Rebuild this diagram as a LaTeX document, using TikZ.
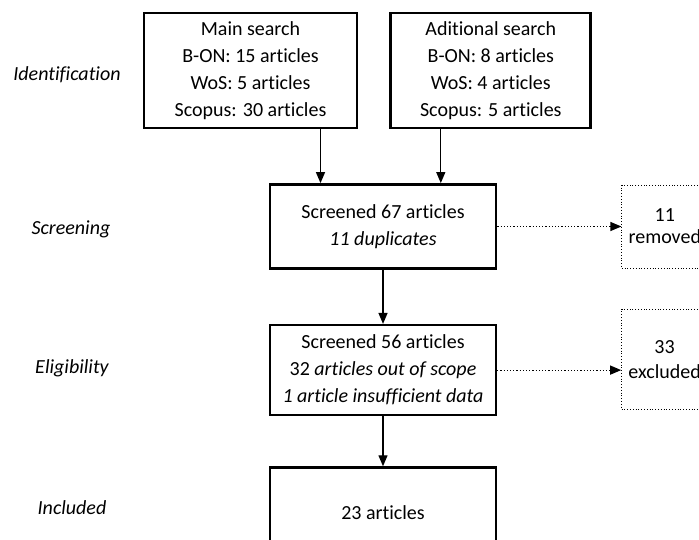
\documentclass[tikz,border=0pt]{standalone}
\usepackage{fontspec}
\setmainfont{Carlito}[Ligatures=NoCommon]
\usetikzlibrary{arrows.meta,positioning}

\begin{document}
\begin{tikzpicture}[
    x=1pt, y=-1pt,
    box/.style={draw, line width=2.8pt, minimum width=226pt, align=center, font=\fontsize{20}{27}\selectfont},
    dotbox/.style={draw, dotted, line width=0.8pt, minimum width=86pt, align=center, font=\fontsize{20}{25}\selectfont},
    stage/.style={font=\fontsize{20}{24}\selectfont\itshape},
    arrow/.style={-{Triangle[length=11pt,width=9pt]}, line width=1.3pt},
    dotarrow/.style={-{Triangle[length=11pt,width=9pt]}, line width=1.2pt, dotted}
]
    \useasboundingbox (0,0) rectangle (699,540);

    % stages
    \node[stage] (lid) at (67,75) {Identification};
    \node[stage] (lscr) at (71,229) {Screening};
    \node[stage] (lelig) at (72,368) {Eligibility};
    \node[stage] (lincl) at (72,508) {Included};

    % flow
    \node[box, minimum width=213pt, minimum height=115pt] (main) at (250.5,70.5) {Main search\\B-ON: 15 articles\\WoS: 5 articles\\Scopus: 30 articles};
    \node[box, minimum width=200pt, minimum height=115pt, right=31pt of main] (extra) {Aditional search\\B-ON: 8 articles\\WoS: 4 articles\\Scopus: 5 articles};
    \node[box, minimum height=84pt] (screen) at (383,226.5) {Screened 67 articles\\\textit{11 duplicates}};
    \node[box, line width=2.4pt, minimum height=90pt, below=54pt of screen] (elig) {Screened 56 articles\\32 \textit{articles out of scope}\\\textit{1 article insufficient data}};
    \node[box, line width=2.4pt, minimum height=90pt, below=50pt of elig] (incl) {23 articles};

    % removed
    \node[dotbox, minimum height=83pt, right=124pt of screen] (removed) {11\\[-3pt]removed};
    \node[dotbox, minimum height=100pt, right=124pt of elig, yshift=11pt] (excl) {33\\excluded};

    \draw[arrow] ([xshift=70pt]main.south) -- ([xshift=70pt]main.south |- screen.north);
    \draw[arrow] ([xshift=-50pt]extra.south) -- ([xshift=-50pt]extra.south |- screen.north);
    \draw[arrow] (screen) -- (elig);
    \draw[arrow] (elig) -- (incl);
    \draw[dotarrow] (screen.east) -- (removed.west);
    \draw[dotarrow] (elig.east) -- (elig.east -| excl.west);
\end{tikzpicture}
\end{document}
